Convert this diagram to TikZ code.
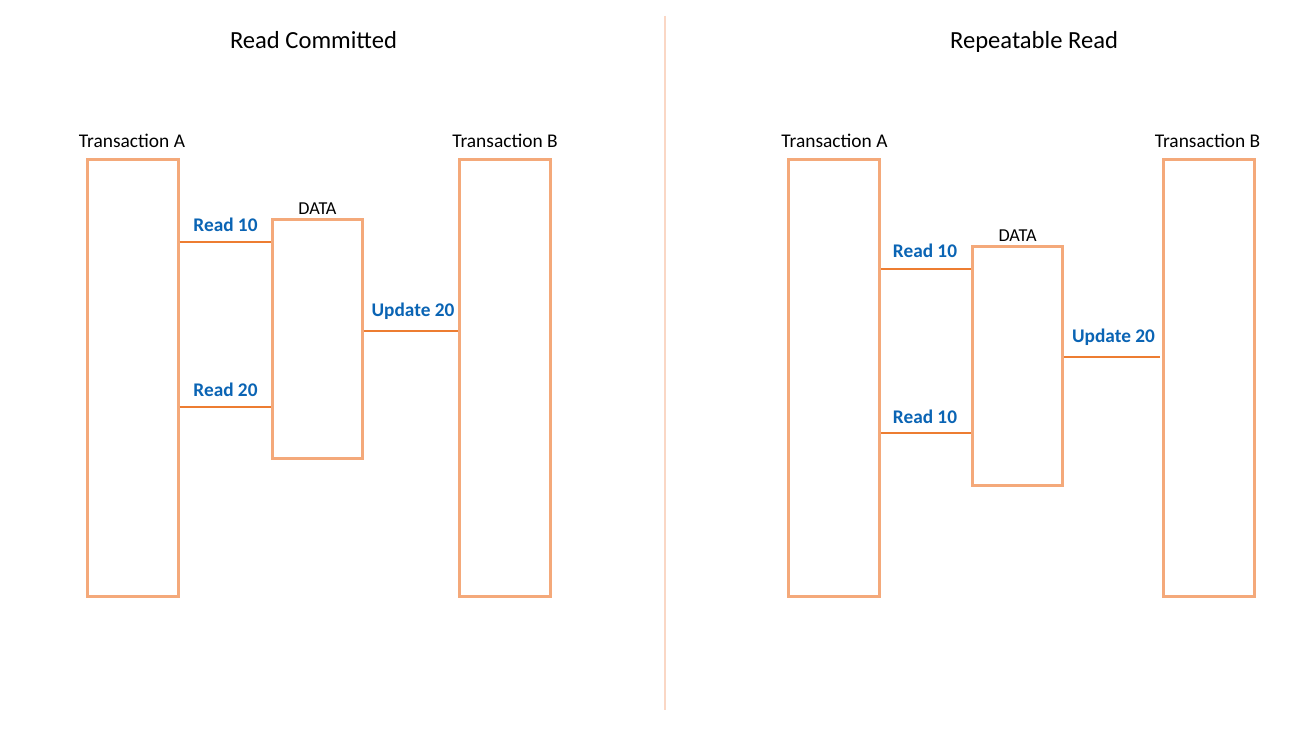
\documentclass[tikz,border=0pt]{standalone}
\usepackage{fontspec}
\setmainfont{Carlito}
\definecolor{boxc}{HTML}{F4A97A}
\definecolor{linec}{HTML}{ED7D31}
\definecolor{labc}{HTML}{0A64B4}
\definecolor{sepc}{HTML}{FAD7C5}
\begin{document}
\begin{tikzpicture}[x=1pt,y=-1pt,
  tbox/.style={draw=boxc,line width=3pt,inner sep=0pt,minimum width=91pt,minimum height=436pt},
  dbox/.style={draw=boxc,line width=3pt,inner sep=0pt,minimum width=90pt,minimum height=238pt},
  conn/.style={draw=linec,line width=2pt},
  oplab/.style={text=labc,font=\bfseries\fontsize{19.3}{22}\selectfont,inner sep=0pt,anchor=base},
  txname/.style={font=\fontsize{19.4}{22}\selectfont,inner sep=0pt,anchor=base},
  dataname/.style={font=\fontsize{18.2}{21}\selectfont,inner sep=0pt,anchor=base},
  paneltitle/.style={font=\fontsize{24.6}{28}\selectfont,inner sep=0pt,anchor=base}]
\useasboundingbox (0,0) rectangle (1312,738);
\fill[white] (0,0) rectangle (1312,738);
% separator
\coordinate (s1) at (665,16);
\coordinate (s2) at (665,710);
\draw[sepc,line width=2pt] (s1) -- (s2);
% left panel
\node[paneltitle] (t1) at (313.5,49) {Read Committed};
\node[tbox] (la) at (132.5,378) {};
\node[dbox] (ld) at (317,339) {};
\node[tbox] (lb) at (505,378) {};
\node[txname] (lan) at (132,148) {Transaction A};
\node[txname] (lbn) at (505,148) {Transaction B};
\node[dataname] (ldn) at (317.5,215) {DATA};
\coordinate (ly1) at (0,242);
\coordinate (ly2) at (0,407);
\coordinate (ly3) at (0,331);
\draw[conn] (la.east |- ly1) -- (ld.west |- ly1);
\draw[conn] (la.east |- ly2) -- (ld.west |- ly2);
\draw[conn] (ld.east |- ly3) -- (lb.west |- ly3);
\node[oplab] (l1) at (225.5,232) {Read 10};
\node[oplab] (l2) at (225.5,396) {Read 20};
\node[oplab] (l3) at (413,316) {Update 20};
% right panel
\node[paneltitle] (t2) at (1034,49) {Repeatable Read};
\node[tbox] (ra) at (834,378) {};
\node[dbox] (rd) at (1017,366) {};
\node[tbox] (rb) at (1209,378) {};
\node[txname] (ran) at (834.5,148) {Transaction A};
\node[txname] (rbn) at (1207.5,148) {Transaction B};
\node[dataname] (rdn) at (1017.5,242) {DATA};
\coordinate (ry1) at (0,269);
\coordinate (ry2) at (0,433);
\coordinate (ry3) at (0,357);
\coordinate (rend) at (1160,357);
\draw[conn] (ra.east |- ry1) -- (rd.west |- ry1);
\draw[conn] (ra.east |- ry2) -- (rd.west |- ry2);
\draw[conn] (rd.east |- ry3) -- (rend);
\node[oplab] (r1) at (925,258) {Read 10};
\node[oplab] (r2) at (925,423) {Read 10};
\node[oplab] (r3) at (1113.5,342) {Update 20};
\end{tikzpicture}
\end{document}
